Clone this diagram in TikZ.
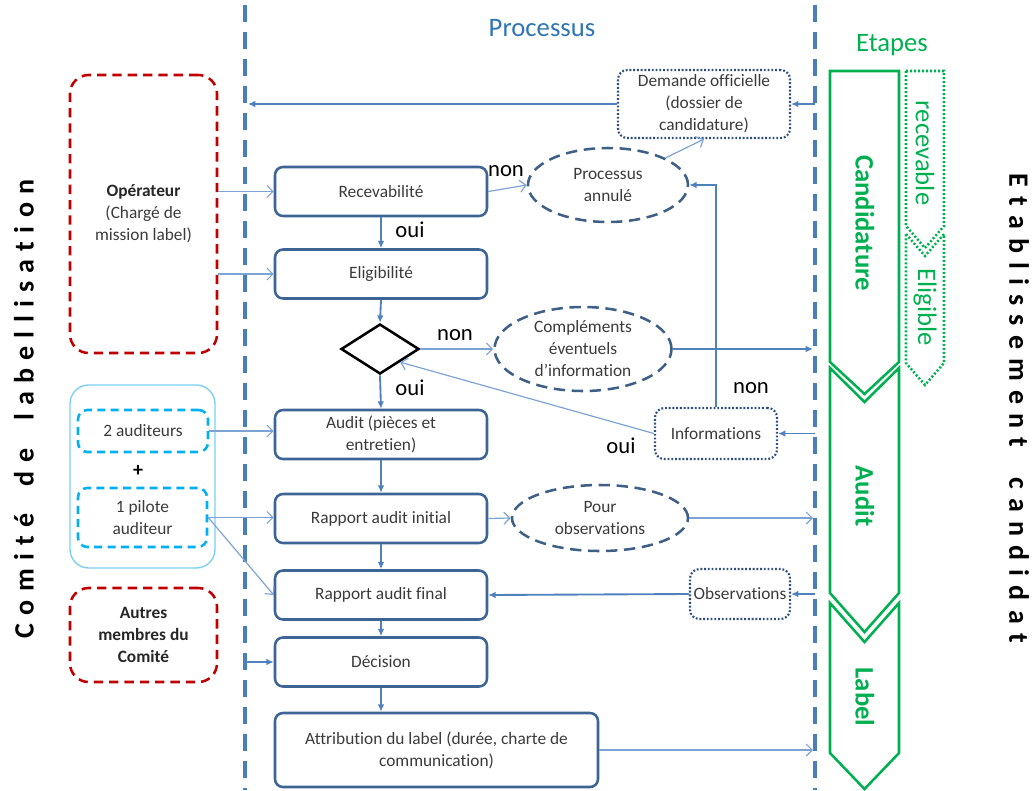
\documentclass[tikz,border=0pt]{standalone}
\usepackage{fontspec}
\setmainfont{Carlito}[Ligatures={NoCommon}]
\usetikzlibrary{arrows.meta,shapes.geometric,calc}
\definecolor{boxblue}{HTML}{3C6494}
\definecolor{ellblue}{HTML}{3E5F86}
\definecolor{dotblue}{HTML}{2D4F7C}
\definecolor{medblue}{HTML}{4F81BD}
\definecolor{thinblue}{HTML}{7DA3D5}
\definecolor{vlineblue}{HTML}{4A7EBB}
\definecolor{redc}{HTML}{C00000}
\definecolor{cyanc}{HTML}{00B0F0}
\definecolor{lightbl}{HTML}{79CFF2}
\definecolor{greenc}{HTML}{00B050}
\definecolor{titleblue}{HTML}{2E75B6}
\definecolor{txtgray}{HTML}{3A3A3A}
\begin{document}
\begin{tikzpicture}[x=0.75pt,y=-0.75pt,
  base/.style={inner sep=0pt, align=center, text=txtgray, font=\fontsize{13}{16.5}\selectfont},
  proc/.style={base, draw=boxblue, line width=1.9pt, rounded corners=6pt, minimum width=159pt, minimum height=36.75pt},
  ell/.style={base, ellipse, draw=ellblue, line width=1.9pt, dash pattern=on 8.5pt off 5pt},
  dotbox/.style={base, draw=dotblue, line width=1.6pt, dash pattern=on 1.4pt off 1.4pt, rounded corners=7pt},
  reddash/.style={base, draw=redc, line width=1.9pt, dash pattern=on 7pt off 4.5pt, rounded corners=14pt},
  cyandash/.style={base, draw=cyanc, line width=1.9pt, dash pattern=on 6pt off 4pt, rounded corners=7pt},
  groupbox/.style={draw=lightbl, line width=1pt, rounded corners=14pt, inner sep=0pt},
  med/.style={draw=medblue, line width=1.4pt, -{Latex[length=5.5pt,width=5pt]}},
  thin/.style={draw=thinblue, line width=0.9pt, -{Straight Barb[length=4.5pt,width=9pt]}},
  lbl/.style={font=\fontsize{17}{17}\selectfont, text=black, inner sep=0pt},
  vline/.style={draw=vlineblue, line width=3pt, dash pattern=on 12.75pt off 7.5pt},
  chev/.style={draw=greenc, line width=1.9pt, line join=miter},
  chevdot/.style={draw=greenc, line width=1.9pt, dash pattern=on 1.5pt off 1.5pt},
  gtext/.style={text=greenc, font=\fontsize{20}{20}\selectfont, inner sep=0pt}
]
\useasboundingbox (0,0) rectangle (1036,790);

% vertical separators
\draw[vline] (245,5) -- (245,790);
\draw[vline] (815,5) -- (815,790);

% titles
\node[text=titleblue, font=\fontsize{20}{20}\selectfont] (ttl) at (542,28) {Processus};
\node[gtext] (etapes) at (892,45) {Etapes};

% side titles
\node[rotate=90, font=\fontsize{21}{21}\bfseries, text=black, inner sep=0pt] (comite) at (24,409)
  {\makebox[344pt][s]{C o m i t é \hspace{0.4em} d e \hspace{0.4em} l a b e l l i s a t i o n}};
\node[rotate=-90, font=\fontsize{21}{21}\bfseries, text=black, inner sep=0pt] (etab) at (1019,408)
  {\makebox[352pt][s]{E t a b l i s s e m e n t \hspace{0.4em} c a n d i d a t}};

% green chevrons
\draw[chev] (830,71) -- (899,71) -- (899,362) -- (864.5,394) -- (830,362) -- cycle;
\draw[chev] (830,368) -- (864.5,402) -- (899,368) -- (899,593) -- (864.5,632) -- (830,593) -- cycle;
\draw[chev] (830,603) -- (864.5,642) -- (899,603) -- (899,753) -- (864.5,789) -- (830,753) -- cycle;
\draw[chevdot] (906,71) -- (944,71) -- (944,226) -- (925,248) -- (906,226) -- cycle;
\draw[chevdot] (906,234) -- (925,256) -- (944,234) -- (944,363) -- (925,385) -- (906,363) -- cycle;
\node[gtext, rotate=-90, font=\fontsize{20}{20}\bfseries] (tcand) at (865,223) {Candidature};
\node[gtext, rotate=-90, font=\fontsize{20}{20}\bfseries] (taudit) at (865,496) {Audit};
\node[gtext, rotate=-90, font=\fontsize{20}{20}\bfseries] (tlabel) at (865,697) {Label};
\node[gtext, rotate=-90] (trec) at (925,153) {recevable};
\node[gtext, rotate=-90] (telig) at (925,307) {Eligible};

% left side
\node[reddash, minimum width=110.25pt, minimum height=208.5pt] (oper) at (143.5,214)
  {\textbf{\color{black!85}Opérateur}\\(Chargé de\\mission label)};
\node[groupbox, minimum width=108.75pt, minimum height=137.25pt] (grp) at (142.5,476.5) {};
\node[cyandash, minimum width=97.5pt, minimum height=31.5pt] (aud2) at (143,431) {2 auditeurs};
\node[font=\fontsize{15}{15}\bfseries, text=black, inner sep=0pt] (plus) at (138,471) {+};
\node[cyandash, minimum width=96.75pt, minimum height=44.25pt] (pilote) at (142.5,517.5) {1 pilote\\auditeur};
\node[reddash, minimum width=110.25pt, minimum height=70.5pt, text=black!85, font=\fontsize{13}{16.5}\bfseries] (autres) at (143.5,635)
  {Autres\\membres du\\Comité};

% main process
\node[proc] (recev) at (381,191.5) {Recevabilité};
\node[proc] (elig) at (381,274) {Eligibilité};
\node[diamond, draw=black, line width=1.9pt, minimum width=58.5pt, minimum height=37.5pt, inner sep=0pt] (dia) at (380,349) {};
\node[proc] (audit) at (381,434.5) {Audit (pièces et\\entretien)};
\node[proc] (rapini) at (381,518.5) {Rapport audit initial};
\node[proc] (rapfin) at (381,595) {Rapport audit final};
\node[proc] (decis) at (381,662) {Décision};
\node[proc, minimum width=242.25pt, minimum height=55.5pt] (attrib) at (436.5,750)
  {Attribution du label (durée, charte de\\communication)};

% right side
\node[dotbox, minimum width=129pt, minimum height=51pt] (demande) at (704,104)
  {Demande officielle\\(dossier de\\candidature)};
\node[ell, minimum width=120pt, minimum height=55.5pt] (annule) at (608,185) {Processus\\annulé};
\node[ell, minimum width=132.75pt, minimum height=63pt] (compl) at (583,349)
  {Compléments\\éventuels\\d’information};
\node[dotbox, minimum width=91.5pt, minimum height=38.25pt] (info) at (716,433.5) {Informations};
\node[ell, minimum width=132pt, minimum height=49.5pt] (pour) at (600,518) {Pour\\observations};
\node[dotbox, minimum width=75pt, minimum height=37.5pt] (obs) at (740,594) {Observations};

% labels
\node[lbl] (non1) at (506,171) {non};
\node[lbl] (oui1) at (410,230) {oui};
\node[lbl] (non2) at (455,335) {non};
\node[lbl] (oui2) at (410,388) {oui};
\node[lbl] (non3) at (751,388) {non};
\node[lbl] (oui3) at (621,446) {oui};

% free-end coordinates on separators
\coordinate (rA) at (815,104);
\coordinate (rB) at (813,349);
\coordinate (rC) at (815,433.5);
\coordinate (rD) at (813,518);
\coordinate (rE) at (815,594);
\coordinate (rF) at (813,750);
\coordinate (lA) at (248,104);
\coordinate (lB) at (245,662);

% vertical flow
\draw[med] (recev.south) -- (elig.north);
\draw[med] (elig.south) -- (dia.north);
\draw[med] (dia.south) -- (audit.north);
\draw[med] (audit.south) -- (rapini.north);
\draw[med] (rapini.south) -- (rapfin.north);
\draw[med] (rapfin.south) -- (decis.north);
\draw[med] (decis.south) -- (decis.south |- attrib.north);

% medium connectors
\draw[med] (rA) -- (demande.east);
\draw[med] (demande.west) -- (lA);
\draw[med] (compl.east) -- (rB);
\draw[med] (info.north) |- (annule.east);
\draw[med] (rC) -- (info.east);
\draw[med] (obs.west) -- (rapfin.east);
\draw[med] (rE) -- (obs.east);
\draw[med] (lB) -- (decis.west);

% thin connectors
\draw[thin] (oper.east |- recev.west) -- (recev.west);
\draw[thin] (oper.east |- elig.west) -- (elig.west);
\draw[thin] (recev.east) -- (annule.west);
\draw[thin] (annule.north east) -- (demande.south);
\draw[thin] (dia.east) -- (compl.west);
\draw[thin] (info.west) -- (dia.south east);
\draw[thin] (aud2.east) -- (aud2.east -| audit.west);
\draw[thin] (pilote.east) -- (pilote.east -| rapini.west);
\draw[thin] (pilote.east) -- (rapfin.west);
\draw[thin] (rapini.east) -- (pour.west);
\draw[thin] (pour.east) -- (rD);
\draw[thin] (attrib.east) -- (rF);
\end{tikzpicture}
\end{document}
